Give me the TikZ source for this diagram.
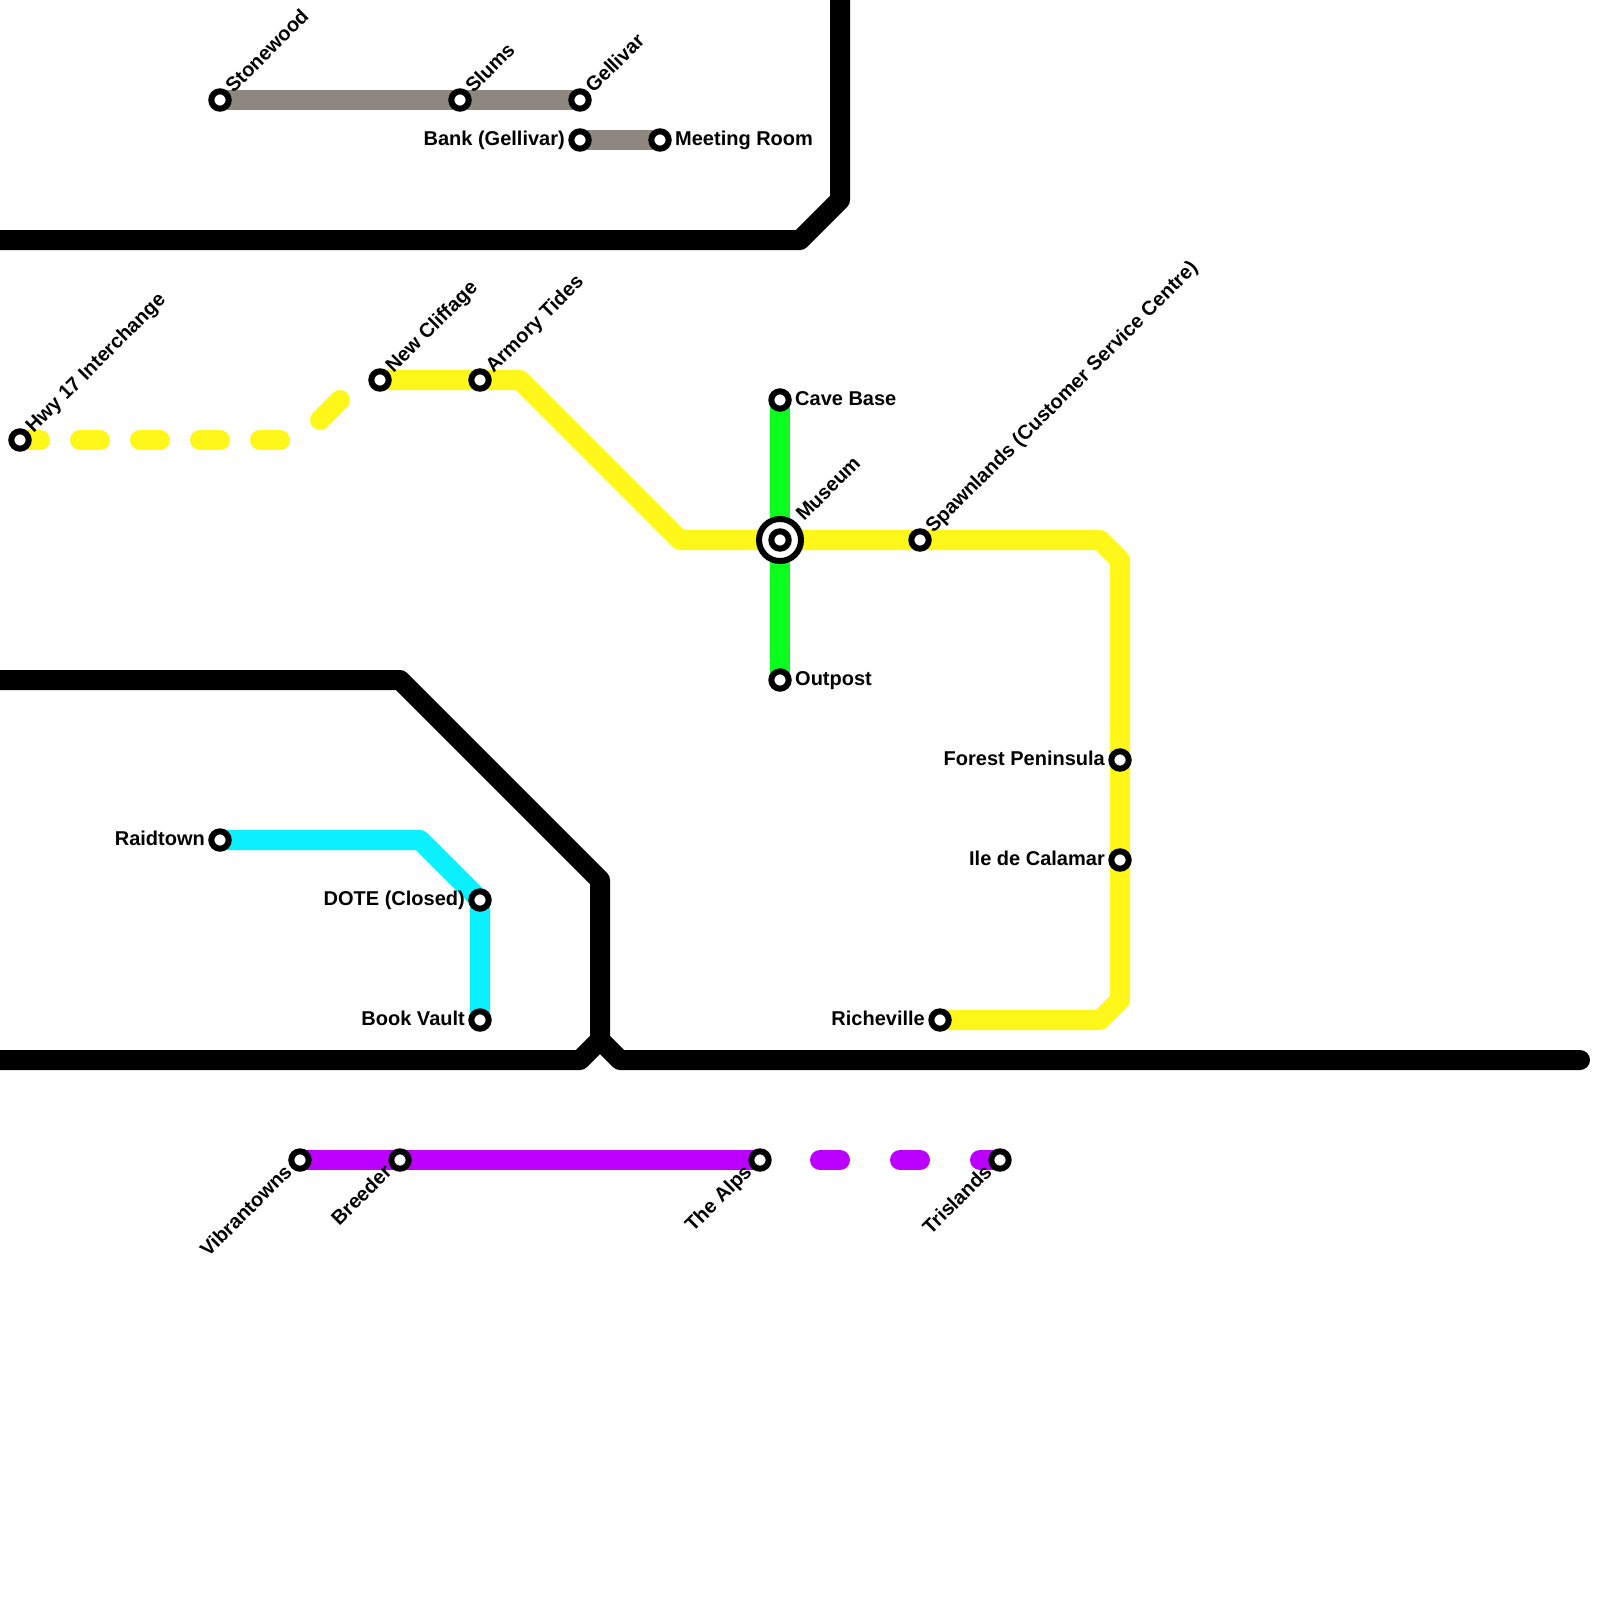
\documentclass[tikz,border=0pt]{standalone}
\usepackage{fontspec}
\setmainfont{Liberation Sans}[BoldFont={Liberation Sans Bold}]
\usetikzlibrary{backgrounds}
\definecolor{myellow}{HTML}{FFF71A}
\definecolor{mgreen}{HTML}{0AFF1E}
\definecolor{mcyan}{HTML}{0AF0FF}
\definecolor{mpurple}{HTML}{BB00FF}
\definecolor{mgray}{HTML}{8E877F}
\tikzset{
  x=1pt,y=-1pt,
  stn/.style={circle,draw=black,fill=white,line width=6pt,minimum size=17.4pt,inner sep=0pt,outer sep=0pt},
  route/.style={line width=20pt,line cap=round,line join=round},
  lab/.style={font=\fontsize{20}{22}\selectfont\bfseries,inner sep=0pt,text=black},
  labR/.style={lab,anchor=base west},
  labL/.style={lab,anchor=base east},
  labU/.style={lab,anchor=base west,rotate=45},
  labD/.style={lab,anchor=base east,rotate=45},
}
\begin{document}
\begin{tikzpicture}
\useasboundingbox (0,0) rectangle (1600,1600);
% stations
\node[stn] (stonewood) at (220,100) {};
\node[stn] (slums) at (460,100) {};
\node[stn] (gellivar) at (580,100) {};
\node[stn] (bank) at (580,140) {};
\node[stn] (meeting) at (660,140) {};
\node[stn] (hwy) at (20,440) {};
\node[stn] (cliffage) at (380,380) {};
\node[stn] (armory) at (480,380) {};
\node[stn] (cave) at (780,400) {};
\node[stn,minimum size=42pt] (museumring) at (780,540) {};
\node[stn] (museum) at (780,540) {};
\node[stn] (outpost) at (780,680) {};
\node[stn] (spawn) at (920,540) {};
\node[stn] (forest) at (1120,760) {};
\node[stn] (ile) at (1120,860) {};
\node[stn] (riche) at (940,1020) {};
\node[stn] (raid) at (220,840) {};
\node[stn] (dote) at (480,900) {};
\node[stn] (vault) at (480,1020) {};
\node[stn] (vibran) at (300,1160) {};
\node[stn] (breeder) at (400,1160) {};
\node[stn] (alps) at (760,1160) {};
\node[stn] (tris) at (1000,1160) {};
% free ends and bends
\coordinate (a0) at (0,240); \coordinate (a1) at (800,240); \coordinate (a2) at (840,200); \coordinate (a3) at (840,0);
\coordinate (b0) at (0,680); \coordinate (b1) at (400,680); \coordinate (b2) at (600,880); \coordinate (b3) at (600,1040);
\coordinate (c0) at (0,1060); \coordinate (c1) at (580,1060); \coordinate (c2) at (620,1060); \coordinate (c3) at (1580,1060);
\coordinate (y0) at (300,440); \coordinate (y1) at (320,420); \coordinate (y2) at (340,400);
\coordinate (y3) at (520,380); \coordinate (y4) at (680,540); \coordinate (y5) at (1100,540); \coordinate (y6) at (1120,560);
\coordinate (y7) at (1120,1000); \coordinate (y8) at (1100,1020);
\coordinate (q1) at (420,840);
\begin{scope}[on background layer]
\fill[white] (0,0) rectangle (1600,1600);
\draw[route,black] (a0) -- (a1) -- (a2) -- (a3);
\draw[route,black] (b0) -- (b1) -- (b2) -- (b3);
\draw[route,black] (c0) -- (c1) -- (b3) -- (c2) -- (c3);
\draw[route,mgray] (stonewood.center) -- (slums.center) -- (gellivar.center);
\draw[route,mgray] (bank.center) -- (meeting.center);
\draw[route,mgreen] (cave.center) -- (outpost.center);
\draw[route,myellow,dash pattern=on 20pt off 40pt] (hwy.center) -- (y0);
\draw[route,myellow] (y1) -- (y2);
\draw[route,myellow] (cliffage.center) -- (armory.center) -- (y3) -- (y4) -- (museum.center) -- (spawn.center) -- (y5) -- (y6) -- (forest.center) -- (ile.center) -- (y7) -- (y8) -- (riche.center);
\draw[route,mcyan] (raid.center) -- (q1) -- (dote.center) -- (vault.center);
\draw[route,mpurple] (vibran.center) -- (breeder.center) -- (alps.center);
\draw[route,mpurple,dash pattern=on 20pt off 60pt] (tris.center) -- (alps.center);
\end{scope}
% labels
\node[labU] (l1) at ([shift={(13.5,-6)}]stonewood.center) {Stonewood};
\node[labU] (l2) at ([shift={(13.5,-6)}]slums.center) {Slums};
\node[labU] (l3) at ([shift={(13.5,-6)}]gellivar.center) {Gellivar};
\node[labL] (l4) at ([shift={(-15,5.5)}]bank.center) {Bank (Gellivar)};
\node[labR] (l5) at ([shift={(15,5.5)}]meeting.center) {Meeting Room};
\node[labU] (l6) at ([shift={(13.5,-6)}]hwy.center) {Hwy 17 Interchange};
\node[labU] (l7) at ([shift={(13.5,-6)}]cliffage.center) {New Cliffage};
\node[labU] (l8) at ([shift={(13.5,-6)}]armory.center) {Armory Tides};
\node[labR] (l9) at ([shift={(15,5.5)}]cave.center) {Cave Base};
\node[labU] (l10) at ([shift={(24,-18)}]museum.center) {Museum};
\node[labR] (l11) at ([shift={(15,5.5)}]outpost.center) {Outpost};
\node[labU] (l12) at ([shift={(13.5,-6)}]spawn.center) {Spawnlands (Customer Service Centre)};
\node[labL] (l13) at ([shift={(-15,5.5)}]forest.center) {Forest Peninsula};
\node[labL] (l14) at ([shift={(-15,5.5)}]ile.center) {Ile de Calamar};
\node[labL] (l15) at ([shift={(-15,5.5)}]riche.center) {Richeville};
\node[labL] (l16) at ([shift={(-15,5.5)}]raid.center) {Raidtown};
\node[labL] (l17) at ([shift={(-15,5.5)}]dote.center) {DOTE (Closed)};
\node[labL] (l18) at ([shift={(-15,5.5)}]vault.center) {Book Vault};
\node[labD] (l19) at ([shift={(-7,13)}]vibran.center) {Vibrantowns};
\node[labD] (l20) at ([shift={(-7,13)}]breeder.center) {Breeder};
\node[labD] (l21) at ([shift={(-7,13)}]alps.center) {The Alps};
\node[labD] (l22) at ([shift={(-7,13)}]tris.center) {Trislands};
\end{tikzpicture}
\end{document}
